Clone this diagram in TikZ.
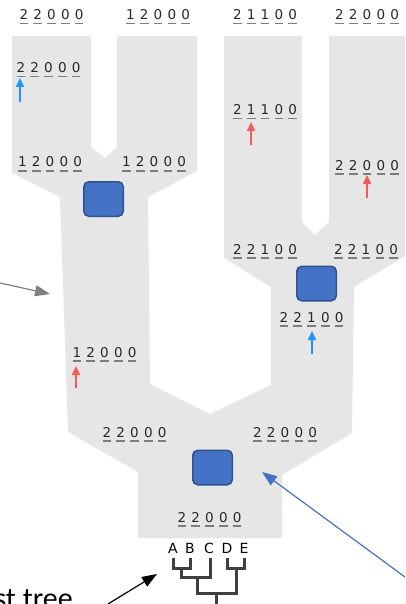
\documentclass[tikz,border=0pt]{standalone}
\usepackage{fontspec}
\usepackage{xcolor}
\usetikzlibrary{arrows.meta}
\setmainfont{DejaVu Sans}
\newfontfamily\calfont{Carlito}
\definecolor{treegray}{RGB}{230,230,230}
\definecolor{boxblue}{RGB}{68,114,196}
\definecolor{boxedge}{RGB}{47,82,143}
\definecolor{digitcolor}{RGB}{40,40,40}
\definecolor{linecolor}{RGB}{125,125,125}
\definecolor{upblue}{RGB}{30,150,255}
\definecolor{upred}{RGB}{245,90,90}
\definecolor{cladecolor}{RGB}{64,64,64}

% one underlined digit, and a row of five of them
\newcommand{\dg}[1]{\makebox[13.8pt]{\rlap{\textcolor{linecolor}{\rule[-4.5pt]{8.6pt}{1.4pt}}}\textcolor{digitcolor}{#1}}}
\newcommand{\cnt}[5]{\dg{#1}\dg{#2}\dg{#3}\dg{#4}\dg{#5}}

\tikzset{
  count/.style={anchor=base, inner sep=0pt, font=\fontsize{13.5}{16}\selectfont},
  leaf/.style={anchor=base, inner sep=0pt, font=\fontsize{14}{16}\selectfont},
  dup/.style={draw=boxedge, fill=boxblue, line width=1.5pt, rounded corners=5pt,
    minimum width=39.5pt, minimum height=34.5pt, inner sep=0pt},
  uparrow/.style={line width=2pt, -{Triangle[length=9pt,width=8pt]}},
  pointer/.style={line width=1.2pt, -{Triangle[length=15pt,width=11pt]}},
  clade/.style={draw=cladecolor, line width=3pt}
}

\begin{document}
\begin{tikzpicture}[x=1pt, y=-1pt] % one unit = one pixel, y runs downwards

    \useasboundingbox (0,0) rectangle (405,604);
    \clip (0,0) rectangle (405,604);

    % Outline of the big tree (left pair, right pair, root)
    \fill[treegray] (12,36) -- (91,36) -- (91,147) -- (105,158) -- (117,147) -- (117,36)
        -- (197,36) -- (197,171) -- (148,197) -- (150,384) -- (210,414) -- (271,385)
        -- (271,287) -- (224,258) -- (224,36) -- (302,36) -- (302,222) -- (315,235)
        -- (329,222) -- (329,36) -- (405,36) -- (405,256) -- (354,287) -- (352,433)
        -- (282,475) -- (282,538) -- (138,538) -- (138,472) -- (68,432) -- (60,197)
        -- (12,173) -- cycle;

    % Blue boxes at the three inner nodes
    \node[dup] (leftbox) at (103.5,199) {};
    \node[dup] (rightbox) at (316.5,283.5) {};
    \node[dup] (rootbox) at (212.5,467.5) {};

    % Count vectors at the tips
    \node[count] (tipA) at (51.5,20) {\cnt22000};
    \node[count] (tipB) at (158,20) {\cnt12000};
    \node[count] (tipC) at (265,20) {\cnt21100};
    \node[count] (tipD) at (367,20) {\cnt22000};

    % Count vectors along the branches
    \node[count] (brA) at (48.5,73) {\cnt22000};
    \node[count] (brC) at (265,115) {\cnt21100};
    \node[count] (brD) at (367,170) {\cnt22000};
    \node[count] (inAB1) at (50,167) {\cnt12000};
    \node[count] (inAB2) at (154,167) {\cnt12000};
    \node[count] (inCD1) at (265,254) {\cnt22100};
    \node[count] (inCD2) at (366,254) {\cnt22100};
    \node[count] (brCD) at (311.5,322) {\cnt22100};
    \node[count] (brAB) at (104.5,357) {\cnt12000};
    \node[count] (inR1) at (134.5,437) {\cnt22000};
    \node[count] (inR2) at (285,437) {\cnt22000};
    \node[count] (root) at (209.5,522) {\cnt22000};

    % Small arrows under the changed digits
    \draw[uparrow, upblue] (20,102) -- (20,78);
    \draw[uparrow, upred] (251,145) -- (251,122);
    \draw[uparrow, upred] (367,198) -- (367,175);
    \draw[uparrow, upblue] (312,354) -- (312,331);
    \draw[uparrow, upred] (76,388) -- (76,366);

    % Leaf names and the small tree below them
    \foreach \name/\x in {A/173,B/190,C/209,D/227,E/244}
        \node[leaf] (\name) at (\x,553) {\name};
    \draw[clade] (173,558) -- (173,568) -- (190,568) -- (190,558);
    \draw[clade] (227,558) -- (227,568) -- (244,568) -- (244,558);
    \draw[clade] (181.5,568) -- (181.5,577) -- (210,577) -- (210,558);
    \draw[clade] (197,577) -- (197,593) -- (236,593) -- (236,568);
    \draw[clade] (216.5,593) -- (216.5,606);

    % Label of the small tree
    \node[anchor=base east, inner sep=0pt, font=\calfont\fontsize{30}{34}\selectfont] (hostlabel) at (73,608) {Host tree};

    % Pointers
    \coordinate (graytail) at (0,283);
    \coordinate (graytip) at (50,294);
    \draw[pointer, draw=gray, fill=gray] (graytail) -- (graytip);

    \coordinate (bluetail) at (405,577);
    \coordinate (bluetip) at (262,472);
    \draw[pointer, draw=boxblue, fill=boxblue] (bluetail) -- (bluetip);

    \coordinate (blacktail) at (108,604);
    \coordinate (blacktip) at (157,574);
    \draw[pointer, black] (blacktail) -- (blacktip);

\end{tikzpicture}
\end{document}
